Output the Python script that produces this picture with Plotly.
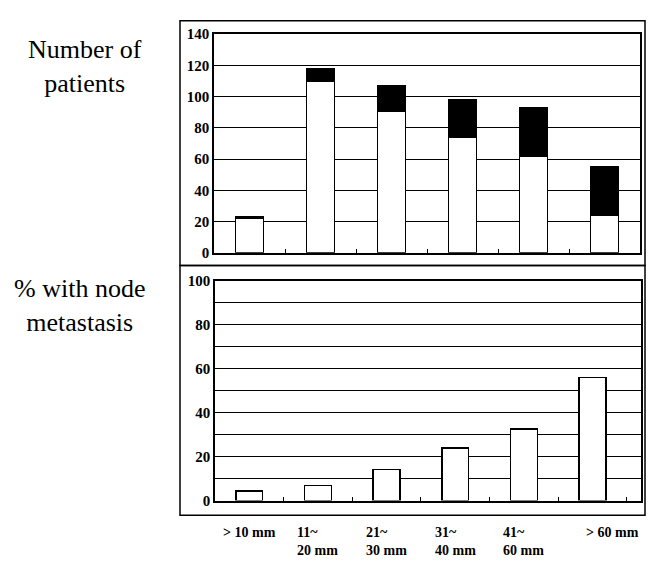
import plotly.graph_objects as go

# ---- data ----
categories = ["> 10 mm", "11~20 mm", "21~30 mm", "31~40 mm", "41~60 mm", "> 60 mm"]
category_labels = ["> 10 mm", "11~<br>20 mm", "21~<br>30 mm", "31~<br>40 mm", "41~<br>60 mm", "> 60 mm"]
node_negative = [22, 110, 91, 74, 62, 24]
node_positive = [1, 8, 16, 24, 31, 31]
percent_node_metastasis = [4.4, 6.9, 14.1, 24.0, 32.7, 56.0]
top_ticks = [0, 20, 40, 60, 80, 100, 120, 140]
bottom_ticks = [0, 20, 40, 60, 80, 100]

W, H = 652, 564
def px_x(v):
    return v / W
def px_y(v):
    return 1 - v / H

serif = "Liberation Serif"
tick_font = dict(family=serif, size=15, color="black", weight="bold")

fig = go.Figure()
bar_line = dict(color="black", width=1.5)
fig.add_trace(go.Bar(x=categories, y=node_negative, marker=dict(color="white", line=bar_line),
                     width=0.39, xaxis="x", yaxis="y", showlegend=False))
fig.add_trace(go.Bar(x=categories, y=node_positive, marker=dict(color="black", line=bar_line),
                     width=0.39, xaxis="x", yaxis="y", showlegend=False))
fig.add_trace(go.Bar(x=categories, y=percent_node_metastasis, marker=dict(color="white", line=bar_line),
                     width=0.39, xaxis="x2", yaxis="y2", showlegend=False))

xcommon = dict(type="category", showline=True, mirror=True, linecolor="black", linewidth=1.5,
               showticklabels=False, ticks="inside", ticklen=4, tickcolor="black",
               tickson="boundaries", showgrid=False, zeroline=False)
ycommon = dict(showline=True, mirror=True, linecolor="black", linewidth=1.5,
               showgrid=True, gridcolor="black", gridwidth=1, zeroline=False,
               ticks="", tickfont=tick_font, ticklabelstandoff=0)

fig.update_layout(
    width=W, height=H,
    margin=dict(l=0, r=0, t=0, b=0),
    paper_bgcolor="white", plot_bgcolor="white",
    barmode="stack",
    xaxis=dict(**xcommon, anchor="y", domain=[px_x(214), px_x(640)]),
    yaxis=dict(**ycommon, range=[0, 140], tickvals=top_ticks,
               domain=[px_y(252), px_y(27)], anchor="x"),
    xaxis2=dict(**xcommon, anchor="y2", domain=[px_x(215), px_x(641)]),
    yaxis2=dict(**ycommon, range=[0, 100], tickvals=bottom_ticks,
                minor=dict(dtick=10, showgrid=True, gridcolor="black", gridwidth=1),
                domain=[px_y(507), px_y(281)], anchor="x2"),
)

# outer frames
for y0, y1 in [(13, 265), (265, 522)]:
    fig.add_shape(type="rect", xref="paper", yref="paper",
                  x0=px_x(180), x1=px_x(645), y0=px_y(y1), y1=px_y(y0),
                  line=dict(color="black", width=1.5), fillcolor="rgba(0,0,0,0)")

# left titles
fig.add_annotation(text="Number of<br>patients", xref="paper", yref="paper",
                   x=px_x(85), y=px_y(60), xanchor="center", yanchor="middle", showarrow=False,
                   font=dict(family=serif, size=26, color="black"))
fig.add_annotation(text="% with node<br>metastasis", xref="paper", yref="paper",
                   x=px_x(79), y=px_y(306), xanchor="center", yanchor="middle", showarrow=False,
                   font=dict(family=serif, size=26, color="black"))

# category labels
for i, (cat, lab) in enumerate(zip(categories, category_labels)):
    fig.add_annotation(text=lab, xref="x2", yref="paper", x=cat, y=px_y(530),
                       yanchor="top", xanchor="center", align="left", showarrow=False,
                       xshift=(20 if i == len(categories) - 1 else 0),
                       font=dict(family=serif, size=14, color="black", weight="bold"))

fig.write_html("out.html")
